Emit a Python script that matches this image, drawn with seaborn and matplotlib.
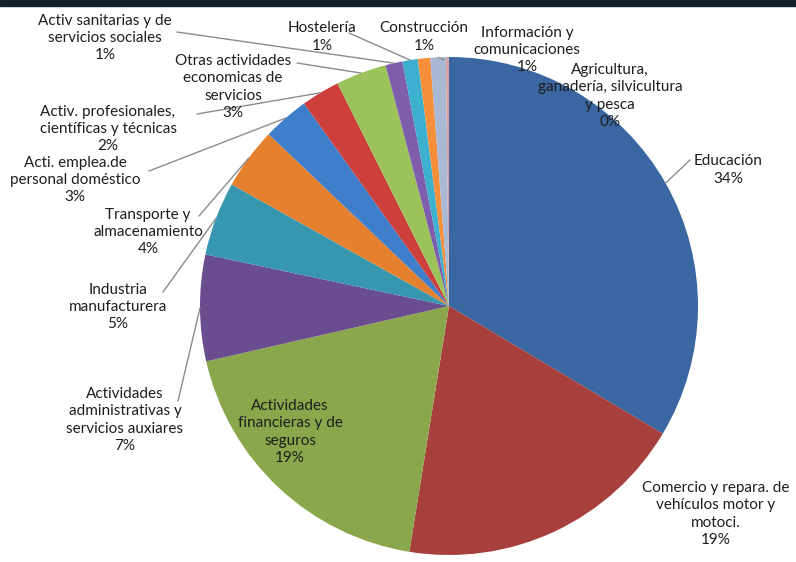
import numpy as np
import matplotlib
matplotlib.use("Agg")
import matplotlib.pyplot as plt
import seaborn as sns
from matplotlib.patches import Rectangle

sns.set_style("white")
plt.rcParams['font.family'] = ['Lato', 'DejaVu Sans']

categories = [
    "Educación",
    "Comercio y repara. de\nvehículos motor y\nmotoci.",
    "Actividades\nfinancieras y de\nseguros",
    "Actividades\nadministrativas y\nservicios auxiares",
    "Industria\nmanufacturera",
    "Transporte y\nalmacenamiento",
    "Acti. emplea.de\npersonal doméstico",
    "Activ. profesionales,\ncientíficas y técnicas",
    "Otras actividades\neconomicas de\nservicios",
    "Activ sanitarias y de\nservicios sociales",
    "Hostelería",
    "Construcción",
    "Información y\ncomunicaciones",
    "Agricultura,\nganadería, silvicultura\ny pesca",
]
values = [33.6, 19.0, 18.9, 6.9, 4.8, 4.0, 3.0, 2.5, 3.3, 1.1, 1.0, 0.8, 1.0, 0.2]
pct_labels = ["34%", "19%", "19%", "7%", "5%", "4%", "3%", "2%", "3%", "1%", "1%", "1%", "1%", "0%"]

colors = ["#3A67A1", "#A7403D", "#8AA84B", "#6A4D8E", "#3797AF", "#E5802E",
          "#3F7ECB", "#CC3F3C", "#9CC25A", "#7E5DAD", "#3EB0CF", "#F58F3A",
          "#A9B8D3", "#D9A3A1"]

W, H = 796, 562
fig = plt.figure(figsize=(W / 100, H / 100), dpi=100)
ax = fig.add_axes([0, 0, 1, 1])

cx, cy, r = 449, H - 306, 249
wedges, _ = ax.pie(values, colors=colors, startangle=90, counterclock=False,
                   center=(cx, cy), radius=r, frame=True,
                   wedgeprops=dict(linewidth=0))
ax.set_xlim(0, W)
ax.set_ylim(0, H)
ax.set_aspect("equal")
ax.axis("off")

# label layout: (text center x, text center y in pixels, leader start x, y or None)
layout = [
    (728, 170, (690, 160)),
    (716, 514, None),
    (290, 432, None),
    (125, 420, (178, 401)),
    (118, 307, (163, 292)),
    (148, 232, (199, 216)),
    (75, 180, (149, 171)),
    (108, 129, (197, 114)),
    (233, 87, (297, 63)),
    (105, 38, (177, 32)),
    (322, 37, (349, 33)),
    (424, 37, None),
    (527, 50, (444, 60)),
    (610, 96, None),
]

txtcol = "#1e1e1e"
for w, cat, pct, (tx, ty, lead) in zip(wedges, categories, pct_labels, layout):
    ax.text(tx, H - ty, cat + "\n" + pct, ha="center", va="center",
            fontsize=11, color=txtcol, linespacing=1.28)
    if lead is not None:
        ang = np.deg2rad((w.theta1 + w.theta2) / 2)
        ex, ey = cx + r * np.cos(ang), cy + r * np.sin(ang)
        ax.plot([lead[0], ex], [H - lead[1], ey], color="#8c8c8c", lw=1.0)

fig.add_artist(Rectangle((0, 1 - 6 / H), 1, 6 / H, transform=fig.transFigure,
                         color="#13212b", zorder=10))

fig.savefig("out.png", dpi=100)
